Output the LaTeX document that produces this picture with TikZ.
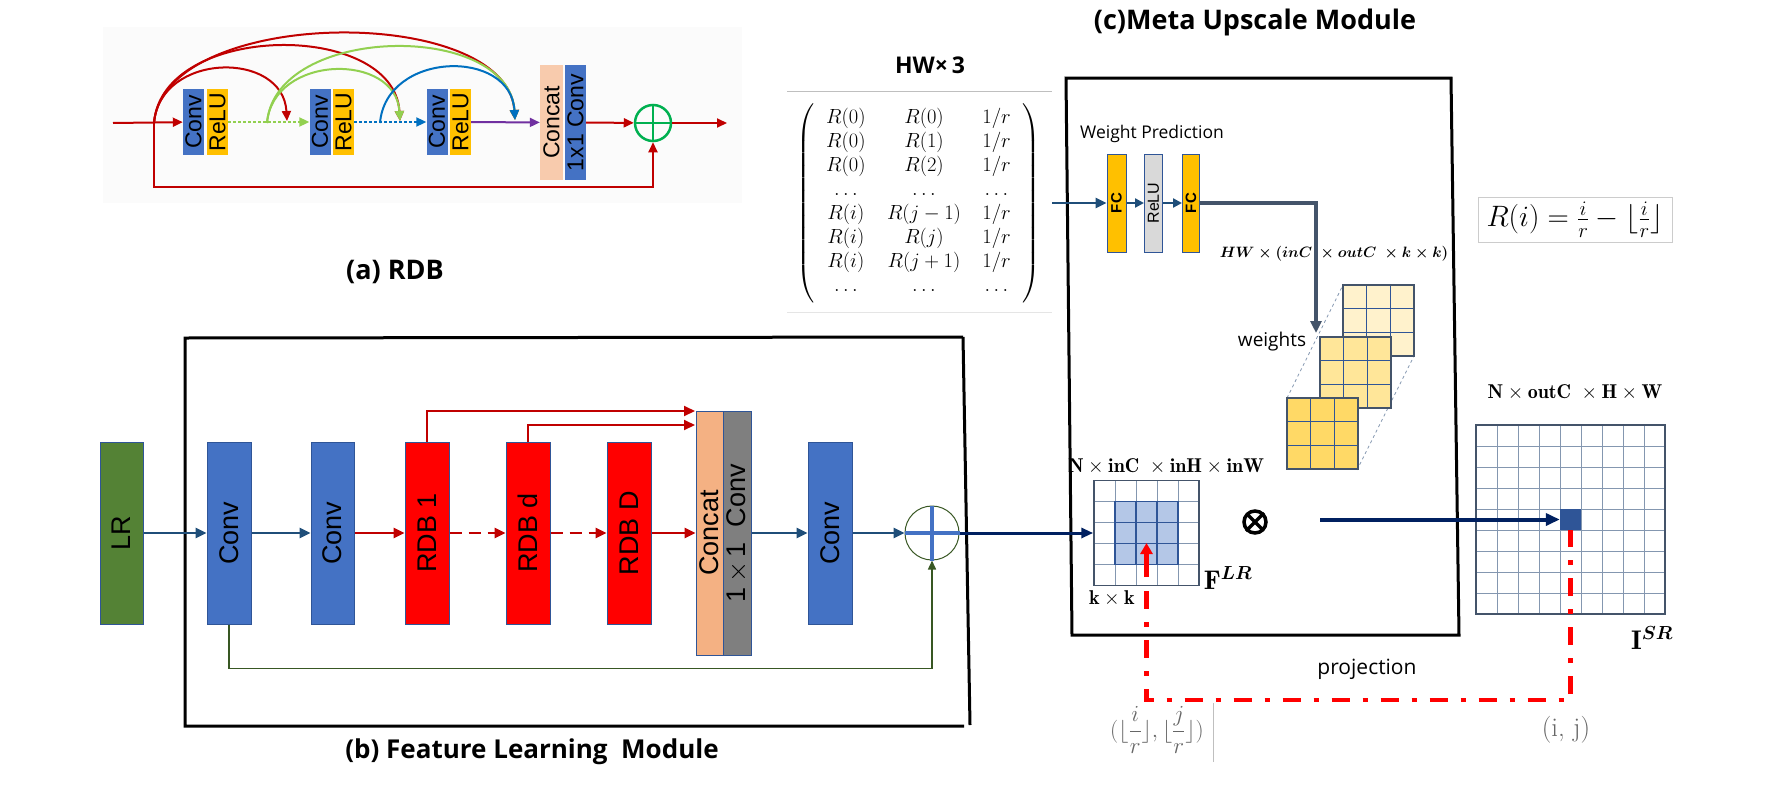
\RequirePackage{fix-cm}
\documentclass[tikz,border=0pt]{standalone}
\usepackage{amsmath}
\usepackage{fontspec}
\setsansfont{Liberation Sans}
\newfontfamily\capfont{Open Sans}
\usetikzlibrary{arrows.meta}

\definecolor{convblue}{HTML}{4472C4}
\definecolor{relugold}{HTML}{FFC000}
\definecolor{relugray}{HTML}{D9D9D9}
\definecolor{lrgreen}{HTML}{548235}
\definecolor{catpeach}{HTML}{F4B183}
\definecolor{catlight}{HTML}{F8CBAD}
\definecolor{onegray}{HTML}{7F7F7F}
\definecolor{edgeblue}{HTML}{2F5597}
\definecolor{flowblue}{HTML}{1F4E79}
\definecolor{outnavy}{HTML}{002060}
\definecolor{wslate}{HTML}{44546A}
\definecolor{deepred}{HTML}{C00000}
\definecolor{skipgreen}{HTML}{385723}
\definecolor{sumgreen}{HTML}{00B050}
\definecolor{limegreen}{HTML}{92D050}
\definecolor{dotblue}{HTML}{0070C0}
\definecolor{arcpurple}{HTML}{7030A0}
\definecolor{cellline}{HTML}{8497B0}
\definecolor{selblue}{HTML}{B4C7E7}
\definecolor{wlight}{HTML}{FFF2CC}
\definecolor{wmid}{HTML}{FFE699}
\definecolor{wdark}{HTML}{FFD966}

\begin{document}
\begin{tikzpicture}[x=1pt, y=-1pt,
		ablock/.style={inner sep=0pt, minimum width=21pt, minimum height=66pt, font=\fontsize{23}{23}\selectfont\sffamily},
		bblock/.style={draw=edgeblue, line width=1pt, inner sep=0pt, minimum width=44pt, minimum height=182pt, font=\fontsize{27}{27}\selectfont\sffamily},
		fcblock/.style={draw=edgeblue, line width=1pt, inner sep=0pt, minimum width=18pt, minimum height=98pt, font=\fontsize{15}{15}\selectfont\sffamily},
		title/.style={font=\fontsize{27}{27}\selectfont\capfont\bfseries},
		tag/.style={font=\fontsize{19}{19}\selectfont\capfont},
		dimlabel/.style={font=\fontsize{20}{20}\selectfont},
		bflow/.style={flowblue, line width=2.5pt, -{Triangle[length=11pt,width=10pt]}},
		rflow/.style={deepred, line width=2.5pt, -{Triangle[length=11pt,width=10pt]}},
		aflow/.style={line width=2pt, -{Triangle[length=10pt,width=9pt]}},
		projline/.style={red, line width=4.5pt, dash pattern=on 18pt off 13pt on 5pt off 13pt}]
	\useasboundingbox (0,0) rectangle (1770,806);

	\fill[black!1.5] (103,27) rectangle (742,203);
	\node[ablock, fill=convblue] (ca1) at (193.5,122) {\rotatebox{90}{Conv}};
	\node[ablock, fill=relugold] (ra1) at (217.5,122) {\rotatebox{90}{ReLU}};
	\node[ablock, fill=convblue] (ca2) at (320,122) {\rotatebox{90}{Conv}};
	\node[ablock, fill=relugold] (ra2) at (343.5,122) {\rotatebox{90}{ReLU}};
	\node[ablock, fill=convblue] (ca3) at (437,122) {\rotatebox{90}{Conv}};
	\node[ablock, fill=relugold] (ra3) at (460.5,122) {\rotatebox{90}{ReLU}};
	\node[ablock, fill=catlight, minimum width=23pt, minimum height=115pt] (cata) at (551.5,122.5) {\rotatebox{90}{Concat}};
	\node[ablock, fill=convblue, minimum height=115pt] (onea) at (575.5,122.5) {\rotatebox{90}{1x1 Conv}};
	\node[circle, draw=sumgreen, line width=2.5pt, minimum size=36pt, inner sep=0pt] (suma) at (653,123) {};
	\draw[sumgreen, line width=2.5pt] (suma.north) -- (suma.south) (suma.west) -- (suma.east);
	\coordinate (ain) at (113,123);
	\coordinate (asplit) at (154,123);
	\coordinate (gsplit) at (267,123);
	\coordinate (bsplit) at (380,123);
	\coordinate (hit2) at (287,121);
	\coordinate (hit3) at (400,121);
	\coordinate (hitcat) at (515,120);
	\coordinate (aout) at (727,123);
	\draw[aflow, deepred] (ain) -- (ca1);
	\draw[aflow, limegreen, dash pattern=on 3pt off 2pt] (ra1) -- (ca2);
	\draw[aflow, dotblue, dash pattern=on 3pt off 2pt] (ra2) -- (ca3);
	\draw[aflow, arcpurple] (ra3) -- (cata);
	\draw[aflow, deepred] (onea) -- (suma);
	\draw[aflow, deepred] (suma) -- (aout);
	\draw[aflow, deepred] (asplit) -- ++(0,64) -| (suma.south);
	\draw[aflow, deepred] (asplit) .. controls +(6,-71) and +(-4,-71) .. (hit2);
	\draw[aflow, deepred] (asplit) .. controls +(8,-101) and +(-6,-101) .. (hit3);
	\draw[aflow, deepred] (asplit) .. controls +(10,-117) and +(-8,-117) .. (hitcat);
	\draw[aflow, limegreen] (gsplit) .. controls +(6,-69) and +(-4,-69) .. (hit3);
	\draw[aflow, limegreen] (gsplit) .. controls +(8,-99) and +(-6,-99) .. (hitcat);
	\draw[aflow, dotblue] (bsplit) .. controls +(6,-72) and +(-4,-72) .. (hitcat);
	\node[title] (rdbtitle) at (395,272) {(a) RDB};

	\draw[line width=3pt] (963,337) -- (185,338) -- (185,726) -- (964,726);
	\draw[line width=3pt] (963,337) -- (970,725);
	\node[bblock, fill=lrgreen, minimum width=43pt] (lr) at (121.5,533) {\rotatebox{90}{LR}};
	\node[bblock, fill=convblue] (cb1) at (229,533) {\rotatebox{90}{Conv}};
	\node[bblock, fill=convblue, minimum width=43pt] (cb2) at (332.5,533) {\rotatebox{90}{Conv}};
	\node[bblock, fill=red] (rdb1) at (427,533) {\rotatebox{90}{RDB 1}};
	\node[bblock, fill=red] (rdbd) at (528,533) {\rotatebox{90}{RDB d}};
	\node[bblock, fill=red] (rdbD) at (629,533) {\rotatebox{90}{RDB D}};
	\node[bblock, fill=catpeach, minimum width=27pt, minimum height=244pt] (catb) at (709.5,533) {\rotatebox{90}{Concat}};
	\node[bblock, fill=onegray, minimum width=28pt, minimum height=244pt] (oneb) at (737,533) {\rotatebox{90}{1\,$\times$\,1\ \ Conv}};
	\node[bblock, fill=convblue] (cb3) at (830,533) {\rotatebox{90}{Conv}};
	\node[circle, draw=skipgreen, line width=1pt, minimum size=54pt, inner sep=0pt] (sumb) at (932,533) {};
	\draw[convblue, line width=3.5pt] (sumb.north) -- (sumb.south) (sumb.west) -- (sumb.east);
	\coordinate (catin1) at (695,411);
	\coordinate (catin2) at (695,425);
	\draw[rflow, line width=2pt] (rdb1.north) |- (catin1);
	\draw[rflow, line width=2pt] (rdbd.north) |- (catin2);
	\draw[bflow] (lr) -- (cb1);
	\draw[bflow] (cb1) -- (cb2);
	\draw[rflow] (cb2) -- (rdb1);
	\draw[rflow, dash pattern=on 12pt off 7pt] (rdb1) -- (rdbd);
	\draw[rflow, dash pattern=on 12pt off 7pt] (rdbd) -- (rdbD);
	\draw[rflow] (rdbD) -- (catb);
	\draw[bflow] (oneb) -- (cb3);
	\draw[bflow] (cb3) -- (sumb);
	\draw[skipgreen, line width=1.5pt, -{Triangle[length=9pt,width=8pt]}] (cb1.south) -- ++(0,44) -| (sumb.south);
	\node[title, font=\fontsize{26}{26}\selectfont\capfont\bfseries] (fltitle) at (532,752) {(b) Feature Learning\ \ Module};

	\node[title] (mutitle) at (1255,22) {(c)Meta Upscale Module};
	\node[title, font=\fontsize{23}{23}\selectfont\capfont\bfseries] (hwtitle) at (930,65) {HW×\,3};
	\draw[black!25, line width=1pt] (787,91) -- (1052,91);
	\draw[black!10, line width=1pt] (787,312) -- (1052,312);
	\node[font=\fontsize{20.5}{24}\selectfont, inner sep=0pt] (coords) at (918.5,203) {$\setlength{\arraycolsep}{10.75pt}\left(\hspace{12pt}\begin{matrix}
		R(0) & R(0) & 1/r\\
		R(0) & R(1) & 1/r\\
		R(0) & R(2) & 1/r\\
		\ldots & \ldots & \ldots\\
		R(i) & R(j-1) & 1/r\\
		R(i) & R(j) & 1/r\\
		R(i) & R(j+1) & 1/r\\
		\ldots & \ldots & \ldots
	\end{matrix}\hspace{12pt}\right)$};
	\draw[line width=3pt] (1066,78) -- (1451,78) -- (1459,635) -- (1072,635) -- cycle;
	\node[tag, font=\fontsize{17.5}{17.5}\selectfont\capfont] (wptitle) at (1152,134) {Weight Prediction};
	\node[fcblock, fill=relugold, minimum width=19pt] (fc1) at (1116.5,203) {\rotatebox{90}{\bfseries FC}};
	\node[fcblock, fill=relugray, font=\fontsize{16}{16}\selectfont\sffamily] (relu) at (1153.5,203) {\rotatebox{90}{ReLU}};
	\node[fcblock, fill=relugold, minimum width=17pt] (fc2) at (1191,203) {\rotatebox{90}{\bfseries FC}};
	\coordinate (matout) at (1052,203);
	\coordinate (wdrop) at (1316,333);
	\draw[bflow] (matout) -- (fc1);
	\draw[bflow, -{Triangle[length=9pt,width=9pt]}] (fc1) -- (relu);
	\draw[bflow, -{Triangle[length=9pt,width=9pt]}] (relu) -- (fc2);
	\draw[wslate, line width=4pt, -{Triangle[length=12pt,width=11pt]}] (fc2) -| (wdrop);
	\node[font=\fontsize{15}{15}\selectfont] (wshape) at (1334,254) {$\boldsymbol{HW\times(inC\ \times outC\ \times k\times k)}$};
	\node[draw=black!20, minimum width=194pt, minimum height=45pt, font=\fontsize{29.5}{29.5}\selectfont] (rdef) at (1575,219.5) {$R(i)=\frac{i}{r}-\lfloor\frac{i}{r}\rfloor$};

	\draw[cellline, dashed, line width=0.8pt] (1287,398) -- (1343,285) (1357,470) -- (1414,356);
	\foreach \gx/\gy/\gc in {1343/285/wlight, 1320/337/wmid, 1287/398/wdark}{
		\begin{scope}[shift={(\gx,\gy)}]
			\fill[\gc] (0,0) rectangle (71,71);
			\foreach \k in {1,2}
				\draw[edgeblue, line width=1.2pt] (\k*71/3,0) -- ++(0,71) (0,\k*71/3) -- ++(71,0);
			\draw[wslate, line width=2pt] (0,0) rectangle (71,71);
		\end{scope}
	}
	\node[tag] (wlabel) at (1272,342) {weights};

	\begin{scope}[shift={(1094,480.5)}]
		\fill[selblue] (21,21) rectangle (84,84);
		\foreach \k in {1,...,4}
			\draw[cellline, line width=1pt] (\k*21,0) -- ++(0,105) (0,\k*21) -- ++(105,0);
		\draw[edgeblue, line width=1.5pt] (21,21) rectangle (84,84) (42,21) -- (42,84) (63,21) -- (63,84) (21,42) -- (84,42) (21,63) -- (84,63);
	\end{scope}
	\node[draw=wslate, line width=1.5pt, minimum size=105pt, inner sep=0pt] (flr) at (1146.5,533) {};
	\draw[outnavy, line width=3pt, -{Triangle[length=12pt,width=10pt]}] (sumb) -- (flr);
	\coordinate (pxlow) at (1146.5,577);
	\coordinate (pxup) at (1146.5,543);
	\draw[red, line width=4.5pt, -{Triangle[length=11pt,width=12pt]}] (pxlow) -- (pxup);
	\node[dimlabel] (flrdim) at (1166,466) {$\mathbf{N\times inC\ \times inH\times inW}$};
	\node[dimlabel] (kdim) at (1112,598) {$\mathbf{k\times k}$};
	\node[font=\fontsize{27}{27}\selectfont] (flrname) at (1228,578) {$\mathbf{F}^{\boldsymbol{LR}}$};
	\node[circle, draw, line width=3.5pt, minimum size=22pt, inner sep=0pt] (mul) at (1255,522) {};
	\draw[line width=3.5pt, shorten >=2pt, shorten <=2pt] (mul.45) -- (mul.225) (mul.135) -- (mul.315);

	\begin{scope}[shift={(1476,425)}]
		\foreach \k in {1,...,8}
			\draw[cellline, line width=1pt] (\k*21,0) -- ++(0,189) (0,\k*21) -- ++(189,0);
	\end{scope}
	\node[draw=wslate, line width=1.5pt, minimum size=189pt, inner sep=0pt] (isr) at (1570.5,519.5) {};
	\node[fill=edgeblue, minimum size=21pt, inner sep=0pt] (hitpx) at (1570.5,519.5) {};
	\coordinate (mulout) at (1320,519.5);
	\draw[outnavy, line width=4pt, -{Triangle[length=14pt,width=12pt]}] (mulout) -- (hitpx);
	\node[dimlabel] (isrdim) at (1575,392) {$\mathbf{N\times outC\ \times H\times W}$};
	\node[font=\fontsize{27}{27}\selectfont] (isrname) at (1652,638) {$\mathbf{I}^{\boldsymbol{SR}}$};

	\coordinate (flrdrop) at (1146.5,591);
	\draw[projline] (flrdrop) -- ++(0,109) -| (hitpx.south);
	\node[tag, font=\fontsize{21}{21}\selectfont\capfont] (projlabel) at (1367,669) {projection};
	\node[font=\fontsize{27}{27}\selectfont, text=black!60] (ijlabel) at (1566,730) {(i, j)};
	\node[font=\fontsize{23}{23}\selectfont, text=black!60] (floorlabel) at (1157,730) {$(\lfloor\dfrac{i}{r}\rfloor,\lfloor\dfrac{j}{r}\rfloor)$};
	\draw[black!25] (1213,703) -- (1213,762);
\end{tikzpicture}
\end{document}
